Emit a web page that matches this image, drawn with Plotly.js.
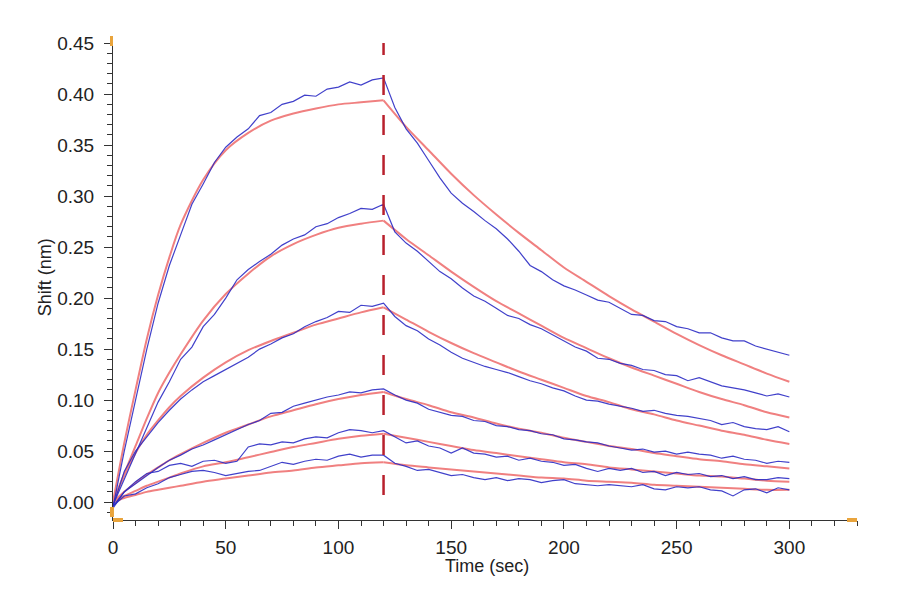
<!DOCTYPE html>
<html>
<head>
<meta charset="utf-8">
<script src="https://cdn.plot.ly/plotly-3.0.1.min.js"></script>
<style>html,body{margin:0;padding:0;background:#fff;}#chart{width:900px;height:600px;}</style>
</head>
<body>
<div id="chart"></div>
<script>
// Time axis for measured (blue) data, seconds
const timeData = [0,5,10,15,20,25,30,35,40,45,50,55,60,65,70,75,80,85,90,95,100,105,110,115,120,
  125,130,135,140,145,150,155,160,165,170,175,180,185,190,195,200,205,210,215,220,225,230,235,240,245,250,255,260,265,270,275,280,285,290,295,300];

// Measured responses (nm)
const data1 = [-0.005,0.050,0.100,0.150,0.195,0.232,0.262,0.292,0.312,0.333,0.348,0.358,0.366,0.379,0.382,0.390,0.393,0.399,0.398,0.405,0.407,0.412,0.409,0.414,0.416,
  0.387,0.366,0.352,0.335,0.318,0.303,0.293,0.285,0.276,0.268,0.258,0.246,0.232,0.226,0.218,0.212,0.208,0.203,0.198,0.196,0.190,0.184,0.183,0.178,0.177,0.172,0.170,0.166,0.166,0.161,0.158,0.158,0.153,0.150,0.147,0.144];
const data2 = [-0.003,0.022,0.048,0.072,0.098,0.118,0.140,0.152,0.172,0.184,0.200,0.218,0.228,0.236,0.243,0.252,0.258,0.262,0.270,0.273,0.279,0.283,0.288,0.287,0.292,
  0.265,0.254,0.246,0.236,0.226,0.219,0.210,0.202,0.197,0.190,0.183,0.180,0.174,0.170,0.164,0.158,0.152,0.148,0.141,0.140,0.136,0.134,0.130,0.129,0.125,0.124,0.119,0.122,0.118,0.114,0.112,0.110,0.107,0.104,0.106,0.103];
const data3 = [-0.004,0.030,0.050,0.064,0.078,0.090,0.101,0.110,0.118,0.124,0.130,0.136,0.142,0.150,0.155,0.161,0.165,0.172,0.177,0.181,0.187,0.186,0.193,0.192,0.195,
  0.182,0.173,0.168,0.160,0.154,0.147,0.141,0.137,0.133,0.130,0.127,0.123,0.119,0.116,0.112,0.109,0.104,0.100,0.099,0.096,0.094,0.092,0.089,0.090,0.087,0.085,0.084,0.082,0.080,0.076,0.078,0.074,0.072,0.071,0.074,0.069];
const data4 = [-0.004,0.010,0.018,0.026,0.034,0.041,0.046,0.052,0.056,0.061,0.066,0.071,0.076,0.080,0.087,0.088,0.094,0.097,0.100,0.103,0.105,0.108,0.107,0.110,0.111,
  0.105,0.100,0.097,0.091,0.088,0.085,0.084,0.080,0.079,0.075,0.074,0.071,0.070,0.067,0.066,0.062,0.061,0.059,0.058,0.055,0.053,0.051,0.052,0.049,0.050,0.047,0.049,0.047,0.046,0.043,0.045,0.042,0.041,0.038,0.040,0.039];
const data5 = [-0.006,0.010,0.020,0.028,0.030,0.036,0.038,0.035,0.040,0.041,0.038,0.040,0.054,0.057,0.056,0.059,0.058,0.062,0.064,0.063,0.068,0.071,0.070,0.068,0.070,
  0.064,0.058,0.060,0.055,0.053,0.048,0.053,0.048,0.047,0.044,0.045,0.041,0.043,0.040,0.039,0.036,0.037,0.033,0.030,0.033,0.031,0.033,0.029,0.030,0.026,0.029,0.027,0.028,0.025,0.026,0.023,0.025,0.022,0.022,0.024,0.023];
const data6 = [-0.004,0.006,0.008,0.014,0.018,0.024,0.027,0.030,0.031,0.029,0.026,0.028,0.030,0.031,0.035,0.039,0.037,0.040,0.042,0.041,0.045,0.047,0.044,0.046,0.046,
  0.038,0.035,0.031,0.032,0.029,0.026,0.027,0.024,0.022,0.024,0.021,0.023,0.022,0.019,0.021,0.022,0.018,0.017,0.016,0.017,0.016,0.015,0.017,0.013,0.012,0.015,0.014,0.015,0.012,0.011,0.006,0.012,0.013,0.009,0.014,0.012];

// Fitted curves: association phase
const timeAssoc = [0,5,10,15,20,25,30,40,50,60,70,80,90,100,110,120];
const fitA1 = [0,0.058,0.110,0.160,0.203,0.240,0.272,0.316,0.345,0.362,0.374,0.381,0.386,0.390,0.392,0.394];
const fitA2 = [0,0.028,0.055,0.082,0.107,0.127,0.145,0.178,0.204,0.224,0.241,0.253,0.262,0.269,0.273,0.276];
const fitA3 = [0,0.026,0.048,0.066,0.080,0.093,0.104,0.122,0.137,0.149,0.158,0.166,0.174,0.180,0.186,0.191];
const fitA4 = [0,0.010,0.019,0.027,0.034,0.041,0.047,0.058,0.068,0.076,0.084,0.090,0.096,0.101,0.105,0.108];
const fitA5 = [0,0.006,0.011,0.016,0.020,0.024,0.028,0.035,0.039,0.044,0.049,0.054,0.058,0.062,0.065,0.067];
const fitA6 = [0,0.004,0.007,0.010,0.012,0.014,0.016,0.020,0.023,0.026,0.029,0.031,0.034,0.036,0.038,0.039];

// Fitted curves: dissociation phase
const timeDiss = [120,130,140,150,160,170,180,190,200,210,220,230,240,250,260,270,280,290,300];
const fitD1 = [0.394,0.368,0.345,0.322,0.301,0.282,0.264,0.247,0.230,0.216,0.202,0.189,0.177,0.165,0.154,0.144,0.135,0.126,0.118];
const fitD2 = [0.276,0.258,0.242,0.226,0.211,0.197,0.185,0.173,0.161,0.151,0.141,0.132,0.124,0.116,0.108,0.101,0.095,0.088,0.083];
const fitD3 = [0.191,0.179,0.167,0.156,0.146,0.137,0.128,0.120,0.112,0.104,0.098,0.091,0.086,0.080,0.075,0.070,0.066,0.061,0.057];
const fitD4 = [0.108,0.101,0.095,0.088,0.083,0.077,0.072,0.068,0.063,0.059,0.055,0.052,0.048,0.045,0.042,0.040,0.037,0.035,0.033];
const fitD5 = [0.067,0.063,0.059,0.055,0.051,0.048,0.045,0.042,0.039,0.037,0.034,0.032,0.030,0.028,0.026,0.025,0.023,0.021,0.020];
const fitD6 = [0.039,0.036,0.034,0.032,0.030,0.028,0.026,0.024,0.023,0.021,0.020,0.019,0.017,0.016,0.015,0.014,0.013,0.012,0.012];

const stepTime = 120;
const xTitle = "Time (sec)";
const yTitle = "Shift (nm)";

const FONT = "Liberation Sans, Arial, Helvetica, sans-serif";
const fitColor = "#f08080";
const dataColor = "#2b2bc4";

const traces = [];
[fitA1,fitA2,fitA3,fitA4,fitA5,fitA6].forEach(v => traces.push({
  x: timeAssoc, y: v, type: "scatter", mode: "lines",
  line: {color: fitColor, width: 2, shape: "spline", smoothing: 0.8}, hoverinfo: "skip", showlegend: false
}));
[fitD1,fitD2,fitD3,fitD4,fitD5,fitD6].forEach(v => traces.push({
  x: timeDiss, y: v, type: "scatter", mode: "lines",
  line: {color: fitColor, width: 2, shape: "spline", smoothing: 0.8}, hoverinfo: "skip", showlegend: false
}));
[data1,data2,data3,data4,data5,data6].forEach(v => traces.push({
  x: timeData, y: v, type: "scatter", mode: "lines",
  line: {color: dataColor, width: 1.2}, opacity: 0.9, hoverinfo: "skip", showlegend: false
}));

const orange = "#e9a43c";
function tab(x0,x1,y0,y1){return {type:"rect",xref:"paper",yref:"paper",x0:x0,x1:x1,y0:y0,y1:y1,fillcolor:orange,line:{width:0},layer:"above"};}

const layout = {
  width: 900, height: 600,
  margin: {l: 113, r: 43, t: 43, b: 80},
  paper_bgcolor: "#fff", plot_bgcolor: "#fff",
  font: {family: FONT, size: 19, color: "#222"},
  showlegend: false,
  xaxis: {
    range: [0, 330], tick0: 0, dtick: 50, tickmode: "linear",
    ticks: "outside", ticklen: 8, tickwidth: 1, tickcolor: "#333",
    minor: {dtick: 10, ticks: "outside", ticklen: 5, tickwidth: 1, tickcolor: "#333"},
    showline: true, linecolor: "#333", linewidth: 1,
    showgrid: false, zeroline: false,
    tickfont: {family: FONT, size: 19, color: "#222"},
    ticklabelstandoff: 2,
    automargin: false
  },
  yaxis: {
    range: [-0.0176, 0.4502], tick0: 0, dtick: 0.05, tickmode: "linear", tickformat: ".2f",
    ticks: "outside", ticklen: 8, tickwidth: 1, tickcolor: "#333",
    minor: {dtick: 0.01, ticks: "outside", ticklen: 5, tickwidth: 1, tickcolor: "#333"},
    showline: true, linecolor: "#333", linewidth: 1,
    showgrid: false, zeroline: false,
    tickfont: {family: FONT, size: 19, color: "#222"},
    ticklabelstandoff: 6,
    automargin: false
  },
  annotations: [
    {text: xTitle, xref: "paper", yref: "paper", x: 0.503, y: -0.097, xanchor: "center", yanchor: "middle",
     showarrow: false, font: {family: FONT, size: 18, color: "#222"}},
    {text: yTitle, xref: "paper", yref: "paper", x: -0.0914, y: 0.509, xanchor: "center", yanchor: "middle",
     textangle: -90, showarrow: false, font: {family: FONT, size: 18, color: "#222"}}
  ],
  shapes: [
    {type: "line", xref: "x", yref: "y", x0: stepTime, x1: stepTime, y0: 0.458, y1: -0.005,
     line: {color: "#b8202c", width: 2.5, dash: "20px,20px"}, layer: "above"},
    tab(-0.004, 0, 0.9937, 1.0147),
    tab(-0.004, 0.0013, 0.0063, 0.0273),
    tab(0, 0.0134, -0.0042, 0.0042),
    tab(0.9866, 1.0, -0.0042, 0.0042)
  ]
};

Plotly.newPlot("chart", traces, layout, {displayModeBar: false, staticPlot: true});
</script>
</body>
</html>
